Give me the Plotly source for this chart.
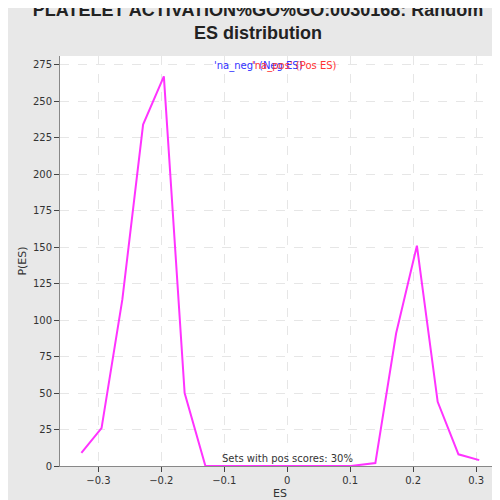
import plotly.graph_objects as go

es = [-0.327, -0.295, -0.262, -0.229, -0.196, -0.163, -0.130, -0.097, -0.064, -0.031,
      0.002, 0.035, 0.068, 0.101, 0.140, 0.173, 0.206, 0.239, 0.272, 0.305]
p_es = [9, 26, 114, 234, 267, 50, 0, 0, 0, 0, 0, 0, 0, 0, 2, 91, 151, 44, 8, 4]

fig = go.Figure()
fig.add_trace(go.Scatter(x=es, y=p_es, mode="lines", line=dict(color="#ff33ff", width=2),
                         showlegend=False))

fig.add_annotation(x=0.5, y=0.995, xref="paper", yref="paper", showarrow=False,
                   text="<span style='color:#3333ff'>'na_neg' (Neg ES)</span>",
                   font=dict(size=10), xanchor="right", xshift=25)
fig.add_annotation(x=0.5, y=0.995, xref="paper", yref="paper", showarrow=False,
                   text="<span style='color:#ff3333'>'na_pos' (Pos ES)</span>",
                   font=dict(size=10), xanchor="left", xshift=-30)
fig.add_annotation(x=0.0, y=0, xref="x", yref="y", showarrow=False, yanchor="bottom",
                   text="Sets with pos scores: 30%", font=dict(size=10, color="#333333"))

fig.update_layout(
    width=500, height=500,
    title=dict(text="<b>PLATELET ACTIVATION%GO%GO:0030168: Random<br>ES distribution</b>",
               x=0.5, xanchor="center", y=0.985,
               font=dict(family="Liberation Sans", size=18, color="#222222")),
    paper_bgcolor="#e8e8e8", plot_bgcolor="white",
    margin=dict(l=52, r=8, t=48, b=42),
    font=dict(family="DejaVu Sans", size=10, color="#333333"),
    xaxis=dict(title=dict(text="ES", standoff=4, font=dict(size=11)), range=[-0.361, 0.338],
               tickvals=[-0.3, -0.2, -0.1, 0, 0.1, 0.2, 0.3],
               showgrid=True, gridcolor="#e6e6e6", griddash="dash", zeroline=False,
               showline=True, linecolor="#888888", ticks="outside"),
    yaxis=dict(title=dict(text="P(ES)", standoff=4, font=dict(size=11)), range=[0, 281], dtick=25,
               showgrid=True, gridcolor="#e6e6e6", griddash="dash", zeroline=False,
               showline=True, linecolor="#888888", ticks="outside"),
)
fig.write_html("out.html")
